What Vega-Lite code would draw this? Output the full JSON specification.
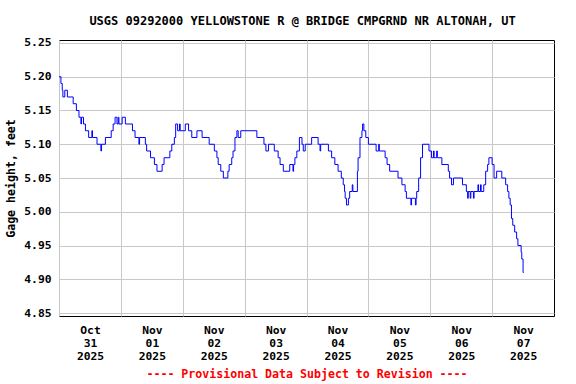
{
  "$schema": "https://vega.github.io/schema/vega-lite/v6.json",
  "width": 495,
  "height": 276,
  "autosize": {"type": "none"},
  "padding": {"left": 59, "top": 40, "right": 22, "bottom": 68},
  "background": "white",
  "title": {
    "text": "USGS 09292000 YELLOWSTONE R @ BRIDGE CMPGRND NR ALTONAH, UT",
    "anchor": "middle",
    "frame": "group",
    "dx": -4,
    "offset": 0,
    "baseline": "alphabetic",
    "font": "DejaVu Sans Mono",
    "fontSize": 12,
    "fontWeight": "bold",
    "color": "black"
  },
  "config": {
    "view": {"stroke": "black", "strokeWidth": 1},
    "axis": {
      "labelFont": "DejaVu Sans Mono",
      "labelFontWeight": "bold",
      "labelFontSize": 11.3,
      "labelColor": "black",
      "titleFont": "DejaVu Sans Mono",
      "titleFontWeight": "bold",
      "titleFontSize": 11.6,
      "titleColor": "black",
      "gridColor": "#c8c8c8",
      "gridWidth": 1,
      "gridOpacity": 1,
      "domain": false,
      "ticks": false
    }
  },
  "data": {
    "values": [
      {"t": "2025-10-31T00:00:00Z", "v": 5.20},
      {"t": "2025-10-31T00:45:00Z", "v": 5.19},
      {"t": "2025-10-31T01:15:00Z", "v": 5.18},
      {"t": "2025-10-31T01:30:00Z", "v": 5.17},
      {"t": "2025-10-31T02:15:00Z", "v": 5.18},
      {"t": "2025-10-31T03:15:00Z", "v": 5.17},
      {"t": "2025-10-31T05:30:00Z", "v": 5.16},
      {"t": "2025-10-31T06:45:00Z", "v": 5.15},
      {"t": "2025-10-31T07:45:00Z", "v": 5.14},
      {"t": "2025-10-31T08:30:00Z", "v": 5.13},
      {"t": "2025-10-31T08:45:00Z", "v": 5.14},
      {"t": "2025-10-31T09:30:00Z", "v": 5.13},
      {"t": "2025-10-31T10:15:00Z", "v": 5.12},
      {"t": "2025-10-31T11:30:00Z", "v": 5.11},
      {"t": "2025-10-31T12:45:00Z", "v": 5.12},
      {"t": "2025-10-31T13:00:00Z", "v": 5.11},
      {"t": "2025-10-31T14:45:00Z", "v": 5.10},
      {"t": "2025-10-31T16:15:00Z", "v": 5.09},
      {"t": "2025-10-31T16:30:00Z", "v": 5.10},
      {"t": "2025-10-31T18:00:00Z", "v": 5.11},
      {"t": "2025-10-31T20:15:00Z", "v": 5.12},
      {"t": "2025-10-31T21:00:00Z", "v": 5.13},
      {"t": "2025-10-31T21:45:00Z", "v": 5.14},
      {"t": "2025-10-31T22:30:00Z", "v": 5.13},
      {"t": "2025-10-31T23:00:00Z", "v": 5.14},
      {"t": "2025-10-31T23:15:00Z", "v": 5.13},
      {"t": "2025-11-01T00:30:00Z", "v": 5.14},
      {"t": "2025-11-01T01:45:00Z", "v": 5.13},
      {"t": "2025-11-01T04:30:00Z", "v": 5.12},
      {"t": "2025-11-01T05:30:00Z", "v": 5.11},
      {"t": "2025-11-01T07:00:00Z", "v": 5.10},
      {"t": "2025-11-01T07:15:00Z", "v": 5.11},
      {"t": "2025-11-01T09:30:00Z", "v": 5.10},
      {"t": "2025-11-01T10:00:00Z", "v": 5.09},
      {"t": "2025-11-01T11:30:00Z", "v": 5.08},
      {"t": "2025-11-01T13:00:00Z", "v": 5.07},
      {"t": "2025-11-01T14:00:00Z", "v": 5.06},
      {"t": "2025-11-01T16:00:00Z", "v": 5.07},
      {"t": "2025-11-01T16:45:00Z", "v": 5.08},
      {"t": "2025-11-01T19:00:00Z", "v": 5.09},
      {"t": "2025-11-01T19:45:00Z", "v": 5.10},
      {"t": "2025-11-01T20:45:00Z", "v": 5.11},
      {"t": "2025-11-01T21:15:00Z", "v": 5.13},
      {"t": "2025-11-01T22:00:00Z", "v": 5.12},
      {"t": "2025-11-01T22:45:00Z", "v": 5.13},
      {"t": "2025-11-01T23:00:00Z", "v": 5.12},
      {"t": "2025-11-02T01:00:00Z", "v": 5.13},
      {"t": "2025-11-02T02:15:00Z", "v": 5.12},
      {"t": "2025-11-02T03:30:00Z", "v": 5.11},
      {"t": "2025-11-02T05:30:00Z", "v": 5.12},
      {"t": "2025-11-02T07:30:00Z", "v": 5.11},
      {"t": "2025-11-02T10:15:00Z", "v": 5.10},
      {"t": "2025-11-02T12:15:00Z", "v": 5.09},
      {"t": "2025-11-02T13:15:00Z", "v": 5.08},
      {"t": "2025-11-02T13:45:00Z", "v": 5.07},
      {"t": "2025-11-02T14:45:00Z", "v": 5.06},
      {"t": "2025-11-02T15:45:00Z", "v": 5.05},
      {"t": "2025-11-02T17:30:00Z", "v": 5.06},
      {"t": "2025-11-02T18:00:00Z", "v": 5.07},
      {"t": "2025-11-02T19:00:00Z", "v": 5.08},
      {"t": "2025-11-02T19:30:00Z", "v": 5.09},
      {"t": "2025-11-02T20:15:00Z", "v": 5.11},
      {"t": "2025-11-02T21:00:00Z", "v": 5.12},
      {"t": "2025-11-02T21:30:00Z", "v": 5.11},
      {"t": "2025-11-02T22:30:00Z", "v": 5.12},
      {"t": "2025-11-03T04:45:00Z", "v": 5.11},
      {"t": "2025-11-03T07:30:00Z", "v": 5.10},
      {"t": "2025-11-03T08:15:00Z", "v": 5.09},
      {"t": "2025-11-03T09:15:00Z", "v": 5.10},
      {"t": "2025-11-03T11:30:00Z", "v": 5.09},
      {"t": "2025-11-03T13:00:00Z", "v": 5.08},
      {"t": "2025-11-03T13:45:00Z", "v": 5.07},
      {"t": "2025-11-03T15:00:00Z", "v": 5.06},
      {"t": "2025-11-03T17:30:00Z", "v": 5.07},
      {"t": "2025-11-03T18:45:00Z", "v": 5.06},
      {"t": "2025-11-03T19:00:00Z", "v": 5.07},
      {"t": "2025-11-03T19:30:00Z", "v": 5.08},
      {"t": "2025-11-03T20:15:00Z", "v": 5.09},
      {"t": "2025-11-03T21:15:00Z", "v": 5.11},
      {"t": "2025-11-03T22:15:00Z", "v": 5.10},
      {"t": "2025-11-03T22:45:00Z", "v": 5.09},
      {"t": "2025-11-03T23:30:00Z", "v": 5.10},
      {"t": "2025-11-04T02:00:00Z", "v": 5.11},
      {"t": "2025-11-04T04:30:00Z", "v": 5.10},
      {"t": "2025-11-04T05:15:00Z", "v": 5.09},
      {"t": "2025-11-04T05:30:00Z", "v": 5.10},
      {"t": "2025-11-04T08:30:00Z", "v": 5.09},
      {"t": "2025-11-04T09:45:00Z", "v": 5.08},
      {"t": "2025-11-04T11:00:00Z", "v": 5.07},
      {"t": "2025-11-04T12:15:00Z", "v": 5.06},
      {"t": "2025-11-04T13:30:00Z", "v": 5.05},
      {"t": "2025-11-04T14:15:00Z", "v": 5.04},
      {"t": "2025-11-04T14:45:00Z", "v": 5.03},
      {"t": "2025-11-04T15:00:00Z", "v": 5.02},
      {"t": "2025-11-04T15:30:00Z", "v": 5.01},
      {"t": "2025-11-04T16:15:00Z", "v": 5.02},
      {"t": "2025-11-04T16:45:00Z", "v": 5.03},
      {"t": "2025-11-04T17:45:00Z", "v": 5.04},
      {"t": "2025-11-04T18:00:00Z", "v": 5.03},
      {"t": "2025-11-04T19:45:00Z", "v": 5.06},
      {"t": "2025-11-04T20:00:00Z", "v": 5.08},
      {"t": "2025-11-04T20:45:00Z", "v": 5.11},
      {"t": "2025-11-04T21:30:00Z", "v": 5.12},
      {"t": "2025-11-04T21:45:00Z", "v": 5.13},
      {"t": "2025-11-04T22:15:00Z", "v": 5.12},
      {"t": "2025-11-04T23:00:00Z", "v": 5.11},
      {"t": "2025-11-05T00:00:00Z", "v": 5.10},
      {"t": "2025-11-05T03:00:00Z", "v": 5.09},
      {"t": "2025-11-05T04:00:00Z", "v": 5.10},
      {"t": "2025-11-05T04:15:00Z", "v": 5.09},
      {"t": "2025-11-05T06:30:00Z", "v": 5.08},
      {"t": "2025-11-05T07:15:00Z", "v": 5.07},
      {"t": "2025-11-05T08:15:00Z", "v": 5.06},
      {"t": "2025-11-05T11:30:00Z", "v": 5.05},
      {"t": "2025-11-05T13:00:00Z", "v": 5.04},
      {"t": "2025-11-05T14:15:00Z", "v": 5.03},
      {"t": "2025-11-05T14:45:00Z", "v": 5.02},
      {"t": "2025-11-05T16:30:00Z", "v": 5.01},
      {"t": "2025-11-05T16:45:00Z", "v": 5.02},
      {"t": "2025-11-05T18:15:00Z", "v": 5.01},
      {"t": "2025-11-05T18:30:00Z", "v": 5.02},
      {"t": "2025-11-05T18:45:00Z", "v": 5.03},
      {"t": "2025-11-05T19:30:00Z", "v": 5.05},
      {"t": "2025-11-05T20:15:00Z", "v": 5.08},
      {"t": "2025-11-05T21:00:00Z", "v": 5.10},
      {"t": "2025-11-05T23:30:00Z", "v": 5.09},
      {"t": "2025-11-06T00:30:00Z", "v": 5.08},
      {"t": "2025-11-06T01:15:00Z", "v": 5.09},
      {"t": "2025-11-06T01:30:00Z", "v": 5.08},
      {"t": "2025-11-06T02:30:00Z", "v": 5.09},
      {"t": "2025-11-06T02:45:00Z", "v": 5.08},
      {"t": "2025-11-06T04:30:00Z", "v": 5.07},
      {"t": "2025-11-06T07:00:00Z", "v": 5.06},
      {"t": "2025-11-06T07:30:00Z", "v": 5.05},
      {"t": "2025-11-06T08:15:00Z", "v": 5.04},
      {"t": "2025-11-06T09:00:00Z", "v": 5.05},
      {"t": "2025-11-06T12:30:00Z", "v": 5.04},
      {"t": "2025-11-06T14:00:00Z", "v": 5.03},
      {"t": "2025-11-06T14:30:00Z", "v": 5.02},
      {"t": "2025-11-06T14:45:00Z", "v": 5.03},
      {"t": "2025-11-06T15:30:00Z", "v": 5.02},
      {"t": "2025-11-06T15:45:00Z", "v": 5.03},
      {"t": "2025-11-06T16:45:00Z", "v": 5.02},
      {"t": "2025-11-06T17:00:00Z", "v": 5.03},
      {"t": "2025-11-06T18:30:00Z", "v": 5.04},
      {"t": "2025-11-06T18:45:00Z", "v": 5.03},
      {"t": "2025-11-06T19:30:00Z", "v": 5.04},
      {"t": "2025-11-06T19:45:00Z", "v": 5.03},
      {"t": "2025-11-06T20:45:00Z", "v": 5.04},
      {"t": "2025-11-06T21:30:00Z", "v": 5.06},
      {"t": "2025-11-06T22:15:00Z", "v": 5.07},
      {"t": "2025-11-06T22:45:00Z", "v": 5.08},
      {"t": "2025-11-07T00:00:00Z", "v": 5.07},
      {"t": "2025-11-07T00:45:00Z", "v": 5.05},
      {"t": "2025-11-07T01:45:00Z", "v": 5.06},
      {"t": "2025-11-07T03:45:00Z", "v": 5.05},
      {"t": "2025-11-07T05:15:00Z", "v": 5.04},
      {"t": "2025-11-07T06:00:00Z", "v": 5.03},
      {"t": "2025-11-07T06:30:00Z", "v": 5.02},
      {"t": "2025-11-07T07:00:00Z", "v": 5.01},
      {"t": "2025-11-07T07:30:00Z", "v": 4.99},
      {"t": "2025-11-07T08:00:00Z", "v": 4.98},
      {"t": "2025-11-07T08:45:00Z", "v": 4.97},
      {"t": "2025-11-07T09:30:00Z", "v": 4.96},
      {"t": "2025-11-07T10:00:00Z", "v": 4.95},
      {"t": "2025-11-07T11:15:00Z", "v": 4.94},
      {"t": "2025-11-07T11:30:00Z", "v": 4.93},
      {"t": "2025-11-07T12:00:00Z", "v": 4.91},
      {"t": "2025-11-07T12:15:00Z", "v": 4.91}
    ]
  },
  "mark": {"type": "line", "interpolate": "step-after", "color": "#0000ff", "strokeWidth": 1, "clip": true},
  "encoding": {
    "x": {
      "field": "t",
      "type": "temporal",
      "scale": {
        "type": "utc",
        "domain": [
          {"year": 2025, "month": 10, "date": 31, "utc": true},
          {"year": 2025, "month": 11, "date": 8, "utc": true}
        ],
        "nice": false
      },
      "axis": {
        "values": [
          {"year": 2025, "month": 10, "date": 31, "utc": true},
          {"year": 2025, "month": 11, "date": 1, "utc": true},
          {"year": 2025, "month": 11, "date": 2, "utc": true},
          {"year": 2025, "month": 11, "date": 3, "utc": true},
          {"year": 2025, "month": 11, "date": 4, "utc": true},
          {"year": 2025, "month": 11, "date": 5, "utc": true},
          {"year": 2025, "month": 11, "date": 6, "utc": true},
          {"year": 2025, "month": 11, "date": 7, "utc": true}
        ],
        "labelExpr": "[utcFormat(datum.value, '%b'), utcFormat(datum.value, '%d'), utcFormat(datum.value, '%Y')]",
        "labelOffset": 31,
        "labelAlign": "center",
        "labelBaseline": "top",
        "labelLineHeight": 13,
        "labelPadding": 8,
        "labelFlush": false,
        "labelOverlap": false,
        "labelBound": false,
        "title": "---- Provisional Data Subject to Revision ----",
        "titleColor": "#ff0000",
        "titlePadding": 7
      }
    },
    "y": {
      "field": "v",
      "type": "quantitative",
      "scale": {"domain": [4.8456, 5.2544], "nice": false, "zero": false},
      "axis": {
        "values": [4.85, 4.9, 4.95, 5.0, 5.05, 5.1, 5.15, 5.2, 5.25],
        "format": ".2f",
        "labelPadding": 8,
        "title": "Gage height, feet",
        "titlePadding": 7
      }
    }
  }
}
